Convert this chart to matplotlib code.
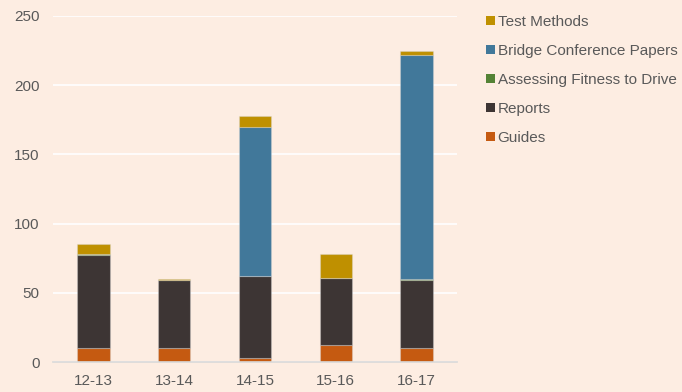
import numpy as np
import matplotlib
matplotlib.use("Agg")
import matplotlib.pyplot as plt
from matplotlib.patches import Patch

plt.rcParams["font.family"] = ["Liberation Sans", "DejaVu Sans"]

# ── Publication counts by financial year ─────────────────────────────────────
years = ["12-13", "13-14", "14-15", "15-16", "16-17"]
guides = [10, 10, 3, 12, 10]
reports = [67, 49, 59, 49, 49]
fitness = [1, 0, 0, 0, 1]
bridge = [0, 0, 108, 0, 162]
test_methods = [7, 1, 8, 17, 3]

series = [
    ("Guides", guides, "#C55A11"),
    ("Reports", reports, "#3D3534"),
    ("Assessing Fitness to Drive", fitness, "#548235"),
    ("Bridge Conference Papers", bridge, "#41789A"),
    ("Test Methods", test_methods, "#BF9000"),
]

BG = "#FDEDE2"
TXT = "#595959"

fig = plt.figure(figsize=(6.82, 3.92), dpi=100, facecolor=BG)
ax = fig.add_axes([0.0777, 0.0765, 0.5924, 0.8827], facecolor=BG)

x = np.arange(len(years))
bottom = np.zeros(len(years))
for name, vals, col in series:
    vals = np.array(vals, dtype=float)
    ax.bar(x, vals, width=0.4, bottom=bottom, color=col,
           edgecolor=(0.85, 0.85, 0.85, 0.35), linewidth=0.8, zorder=3)
    bottom += vals

ax.set_xlim(-0.5, len(years) - 0.5)
ax.set_ylim(0, 250)
ax.set_yticks(range(0, 251, 50))
ax.set_xticks(x, years)
ax.grid(axis="y", color="white", linewidth=1.2, zorder=0)
for s in ["top", "right", "left"]:
    ax.spines[s].set_visible(False)
ax.spines["bottom"].set_color("#D9D9D9")
ax.spines["bottom"].set_linewidth(1.2)
ax.spines["bottom"].set_zorder(4)
ax.tick_params(axis="both", length=0, labelsize=11, labelcolor=TXT)
ax.tick_params(axis="x", pad=8.5)
ax.tick_params(axis="y", pad=9.5)

handles = [Patch(facecolor=col, edgecolor="none", label=name)
           for name, _, col in reversed(series)]
fig.legend(handles=handles, loc="upper left", bbox_to_anchor=(0.704, 0.978),
           frameon=False, fontsize=11, labelcolor=TXT, handlelength=0.55,
           handleheight=0.55, handletextpad=0.2, labelspacing=0.98,
           borderaxespad=0)

fig.savefig("out.png", dpi=100, facecolor=BG)
